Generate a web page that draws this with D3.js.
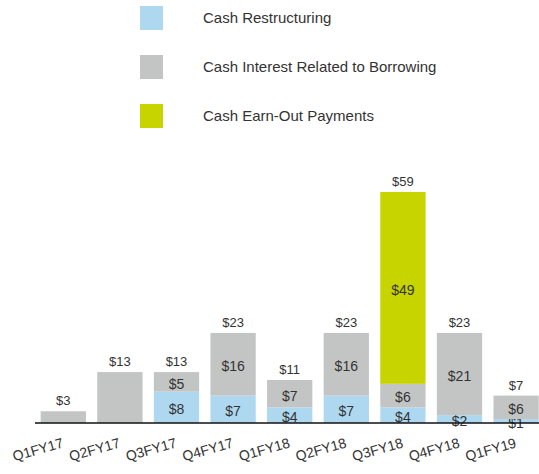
<!DOCTYPE html>
<html>
<head>
<meta charset="utf-8">
<script src="https://cdn.jsdelivr.net/npm/d3@7"></script>
<style>
  body { margin: 0; background: #fff; }
  svg { display: block; font-family: "Liberation Sans", Arial, sans-serif; }
</style>
</head>
<body>
<svg id="chart"></svg>
<script>
const width = 539;
const height = 474;

// datos
const quarters = ["Q1FY17", "Q2FY17", "Q3FY17", "Q4FY17", "Q1FY18", "Q2FY18", "Q3FY18", "Q4FY18", "Q1FY19"];
const restructuring = [0, 0, 8, 7, 4, 7, 4, 2, 1];
const interest = [3, 13, 5, 16, 7, 16, 6, 21, 6];
const earnOut = [0, 0, 0, 0, 0, 0, 49, 0, 0];
const totals = [3, 13, 13, 23, 11, 23, 59, 23, 7];

const seriesNames = ["Cash Restructuring", "Cash Interest Related to Borrowing", "Cash Earn-Out Payments"];
const seriesKeys = ["restructuring", "interest", "earnOut"];
const colors = ["#aed8ef", "#c3c5c5", "#c8d400"];

const rows = quarters.map((q, i) => ({
  quarter: q,
  restructuring: restructuring[i],
  interest: interest[i],
  earnOut: earnOut[i],
  total: totals[i]
}));

const svg = d3.select("#chart")
  .attr("width", width)
  .attr("height", height)
  .attr("viewBox", `0 0 ${width} ${height}`);

const x = d3.scaleBand()
  .domain(quarters)
  .range([35, 544.4])
  .paddingInner(0.2)
  .paddingOuter(0.1);

const y = d3.scaleLinear()
  .domain([0, 59])
  .range([423, 192]);

const stacked = d3.stack().keys(seriesKeys)(rows);

// Barras apiladas
const layers = svg.append("g").selectAll("g")
  .data(stacked)
  .join("g")
  .attr("fill", (d, i) => colors[i]);

layers.selectAll("rect")
  .data(d => d.filter(s => s[1] - s[0] > 0))
  .join("rect")
  .attr("x", d => x(d.data.quarter))
  .attr("width", x.bandwidth())
  .attr("y", d => y(d[1]))
  .attr("height", d => y(d[0]) - y(d[1]));

// etiquetas de segmento (sin etiqueta cuando la barra tiene una sola serie)
layers.selectAll("text")
  .data(d => d.filter(s => s[1] - s[0] > 0 && !(d.key === "interest" && s.data.restructuring === 0 && s.data.earnOut === 0)))
  .join("text")
  .attr("x", d => x(d.data.quarter) + x.bandwidth() / 2)
  .attr("y", d => y((d[0] + d[1]) / 2) + 2)
  .attr("dy", "0.35em")
  .attr("text-anchor", "middle")
  .attr("fill", "#333")
  .attr("font-size", 14)
  .text(d => "$" + (d[1] - d[0]));

// totales arriba
svg.append("g").selectAll("text")
  .data(rows)
  .join("text")
  .attr("x", d => x(d.quarter) + x.bandwidth() / 2)
  .attr("y", d => y(d.total) - 6)
  .attr("text-anchor", "middle")
  .attr("fill", "#333")
  .attr("font-size", 13)
  .text(d => "$" + d.total);

// Eje x
svg.append("line")
  .attr("x1", 35).attr("x2", width)
  .attr("y1", y(0)).attr("y2", y(0))
  .attr("stroke", "#111")
  .attr("stroke-width", 1.5);

svg.append("g").selectAll("text")
  .data(quarters)
  .join("text")
  .attr("transform", d => `translate(${x(d) + x.bandwidth() / 2 + 1},${y(0) + 24}) rotate(-16)`)
  .attr("text-anchor", "end")
  .attr("fill", "#333")
  .attr("font-size", 14)
  .text(d => d);

// Leyenda
const legend = svg.append("g").selectAll("g")
  .data(seriesNames)
  .join("g")
  .attr("transform", (d, i) => `translate(140,${6 + i * 49})`);

legend.append("rect")
  .attr("width", 23)
  .attr("height", 24)
  .attr("fill", (d, i) => colors[i]);

legend.append("text")
  .attr("x", 63)
  .attr("y", 12)
  .attr("dy", "0.35em")
  .attr("fill", "#333")
  .attr("font-size", 15)
  .text(d => d);
</script>
</body>
</html>
